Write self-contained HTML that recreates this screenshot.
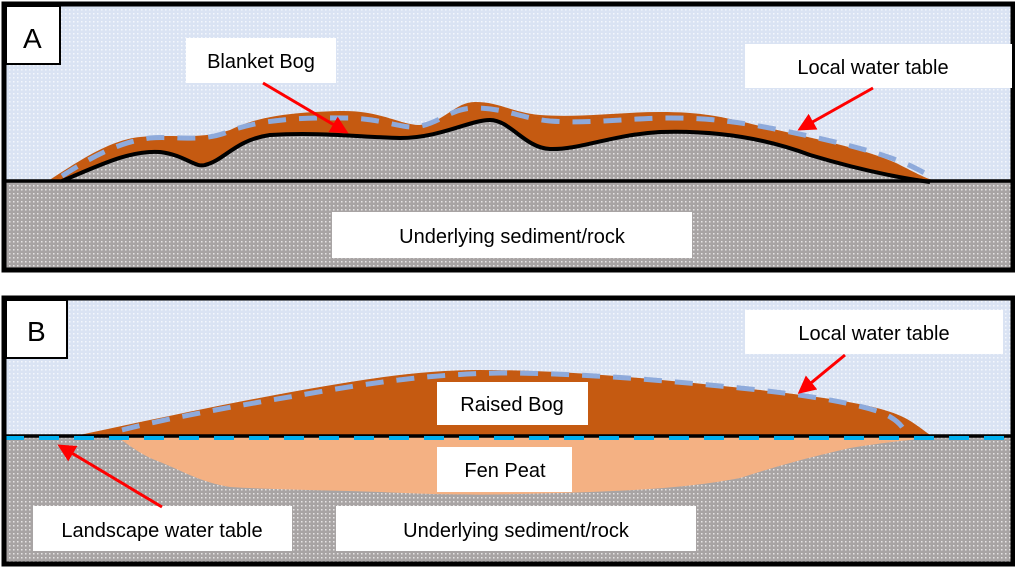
<!DOCTYPE html>
<html><head><meta charset="utf-8"><style>
html,body{margin:0;padding:0;background:#fff;width:1015px;height:568px;overflow:hidden}
svg{display:block}
text{font-family:"Liberation Sans",sans-serif;font-size:20px;fill:#000}
</style></head><body>
<svg width="1015" height="568" viewBox="0 0 1015 568">
<defs>
<pattern id="sky" width="4" height="4" patternUnits="userSpaceOnUse"><rect width="4" height="4" fill="#dae3f3"/><rect x="1" y="1" width="1.5" height="1.5" fill="#f4f7fc"/></pattern>
<pattern id="gnd" width="4" height="4" patternUnits="userSpaceOnUse"><rect width="4" height="4" fill="#a8a4a4"/><rect x="1" y="1" width="1.5" height="1.5" fill="#e6e4e4"/></pattern>
<marker id="ah" markerWidth="6" markerHeight="6" refX="5" refY="3" orient="auto" markerUnits="strokeWidth"><path d="M0,0 L6,3 L0,6 z" fill="#ff0000"/></marker>
</defs>

<!-- Panel A -->
<rect x="4" y="4" width="1009" height="177" fill="url(#sky)"/>
<rect x="4" y="181" width="1009" height="89" fill="url(#gnd)"/>
<path d="M48,181 C80,160 110,140 140,137 C170,134 200,140 230,130 C260,115 300,112 340,111 C380,110 400,125 420,125 C445,122 455,102 475,102 C500,102 510,112 540,115 C580,118 620,112 660,112 C700,112 720,116 760,126 C820,140 870,150 900,165 C920,175 930,181 940,181 Z" fill="#c55a11"/>
<path d="M62,181 C100,165 130,150 160,152 C185,155 195,168 205,165 C225,160 235,140 270,135 C320,132 360,137 400,138 C440,138 470,120 490,120 C510,120 525,148 550,149 C580,150 610,135 660,132 C720,130 770,140 810,155 C860,170 900,178 930,182 L930,183 L62,183 Z" fill="url(#gnd)"/>
<path d="M62,181 C100,165 130,150 160,152 C185,155 195,168 205,165 C225,160 235,140 270,135 C320,132 360,137 400,138 C440,138 470,120 490,120 C510,120 525,148 550,149 C580,150 610,135 660,132 C720,130 770,140 810,155 C860,170 900,178 930,182" fill="none" stroke="#000" stroke-width="4"/>
<path d="M62,176 C95,155 120,142 150,138 C175,136 200,142 225,133 C255,120 300,117 345,118 C380,118 400,128 415,127 C440,124 450,108 475,108 C505,108 520,118 550,121 C590,124 630,118 670,118 C710,118 740,122 780,130 C840,142 890,155 915,168 C925,173 930,176 932,178" fill="none" stroke="#8eaadb" stroke-width="5" stroke-dasharray="18,13"/>
<line x1="4" y1="181" x2="1013" y2="181" stroke="#000" stroke-width="3.5"/>
<rect x="4" y="4" width="1009" height="266" fill="none" stroke="#000" stroke-width="5"/>
<rect x="6" y="6" width="54" height="58" fill="#fff" stroke="#000" stroke-width="2"/>
<text x="23" y="48" style="font-size:28px">A</text>
<rect x="186" y="38" width="150" height="45" fill="#fff"/>
<text x="261" y="68" text-anchor="middle">Blanket Bog</text>
<rect x="745" y="44" width="267" height="44" fill="#fff"/>
<text x="873" y="74" text-anchor="middle">Local water table</text>
<rect x="332" y="212" width="360" height="46" fill="#fff"/>
<text x="512" y="243" text-anchor="middle">Underlying sediment/rock</text>
<line x1="263" y1="83" x2="346" y2="132" stroke="#ff0000" stroke-width="3" marker-end="url(#ah)"/>
<line x1="873" y1="88" x2="800" y2="129" stroke="#ff0000" stroke-width="3" marker-end="url(#ah)"/>

<!-- Panel B -->
<rect x="4" y="298" width="1009" height="138" fill="url(#sky)"/>
<rect x="4" y="436" width="1009" height="128" fill="url(#gnd)"/>
<path d="M75,436 C150,420 250,398 350,382 C400,374 440,370 480,370 C560,370 650,378 760,390 C830,398 880,405 905,418 C918,425 925,432 932,436 Z" fill="#c55a11"/>
<path d="M115,436 C130,445 140,455 160,462 C185,472 200,482 230,487 C280,490 330,490 380,492 C440,495 480,495 520,494 C600,492 680,490 740,478 C790,462 820,455 850,448 C900,440 930,438 960,436 Z" fill="#f4b183"/>
<line x1="4" y1="436" x2="1013" y2="436" stroke="#000" stroke-width="3.5"/>
<path d="M122,430 C180,415 260,402 330,390 C390,380 440,374 500,373 C580,373 660,380 740,388 C800,394 850,402 880,412 C895,418 902,425 905,432" fill="none" stroke="#8eaadb" stroke-width="5" stroke-dasharray="18,13"/>
<line x1="4" y1="438" x2="1013" y2="438" stroke="#00b0f0" stroke-width="4" stroke-dasharray="20,15"/>
<rect x="4" y="298" width="1009" height="266" fill="none" stroke="#000" stroke-width="5"/>
<rect x="6" y="300" width="61" height="58" fill="#fff" stroke="#000" stroke-width="2"/>
<text x="27" y="341" style="font-size:28px">B</text>
<rect x="745" y="310" width="258" height="44" fill="#fff"/>
<text x="874" y="340" text-anchor="middle">Local water table</text>
<rect x="437" y="382" width="151" height="43" fill="#fff"/>
<text x="512" y="411" text-anchor="middle">Raised Bog</text>
<rect x="437" y="447" width="135" height="45" fill="#fff"/>
<text x="505" y="477" text-anchor="middle">Fen Peat</text>
<rect x="33" y="506" width="259" height="45" fill="#fff"/>
<text x="162" y="537" text-anchor="middle">Landscape water table</text>
<rect x="336" y="506" width="360" height="45" fill="#fff"/>
<text x="516" y="537" text-anchor="middle">Underlying sediment/rock</text>
<line x1="845" y1="355" x2="800" y2="392" stroke="#ff0000" stroke-width="3" marker-end="url(#ah)"/>
<line x1="162" y1="507" x2="60" y2="446" stroke="#ff0000" stroke-width="3" marker-end="url(#ah)"/>
</svg>
</body></html>
